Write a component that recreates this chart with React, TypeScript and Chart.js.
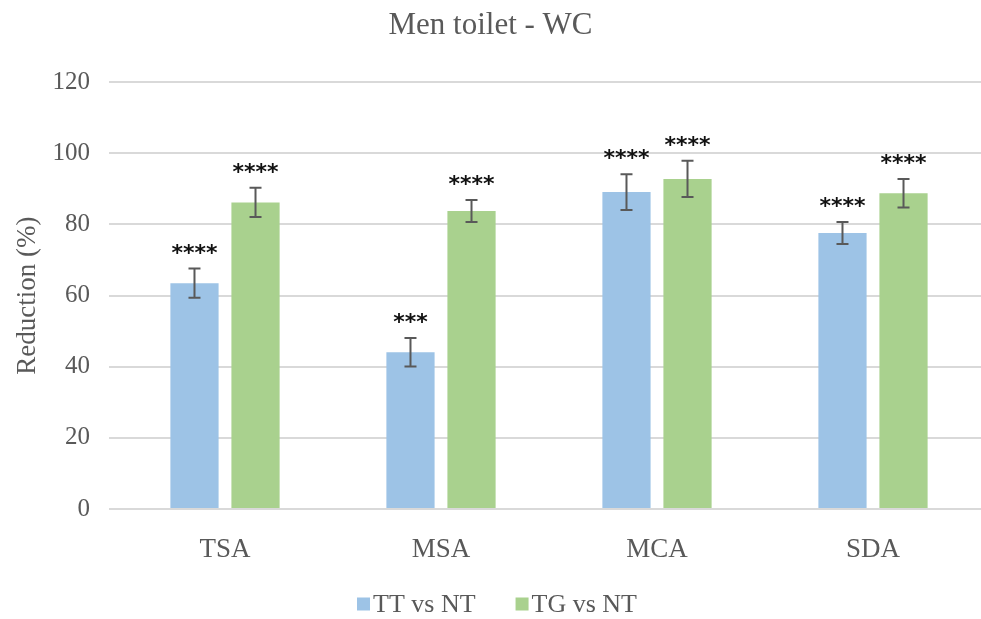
import React, { useEffect, useRef } from "react";
import { Chart, registerables } from "chart.js";

Chart.register(...registerables);

const categories = ["TSA", "MSA", "MCA", "SDA"];
const seriesNames = ["TT vs NT", "TG vs NT"];
const ttValues = [63.5, 44.1, 89.1, 77.6];
const tgValues = [86.2, 83.8, 92.8, 88.8];
const ttErrors = [4.1, 4.0, 5.0, 3.1];
const tgErrors = [4.1, 3.1, 5.1, 4.0];
const ttStars = ["****", "***", "****", "****"];
const tgStars = ["****", "****", "****", "****"];
const yTicks = [0, 20, 40, 60, 80, 100, 120];

const SERIF = "'Liberation Serif', 'DejaVu Serif', serif";
const GREY = "#595959";

const errorPlugin = {
  id: "errorBarsStars",
  afterDatasetsDraw(chart: any) {
    const ctx = chart.ctx;
    const yScale = chart.scales.y;
    const errs = [ttErrors, tgErrors];
    const stars = [ttStars, tgStars];
    chart.data.datasets.forEach((ds: any, di: number) => {
      const meta = chart.getDatasetMeta(di);
      meta.data.forEach((bar: any, i: number) => {
        const v = ds.data[i];
        const e = errs[di][i];
        const yTop = yScale.getPixelForValue(v + e);
        const yBot = yScale.getPixelForValue(v - e);
        const x = bar.x;
        ctx.save();
        ctx.strokeStyle = GREY;
        ctx.lineWidth = 2;
        ctx.beginPath();
        ctx.moveTo(x, yTop);
        ctx.lineTo(x, yBot);
        ctx.moveTo(x - 6, yTop);
        ctx.lineTo(x + 6, yTop);
        ctx.moveTo(x - 6, yBot);
        ctx.lineTo(x + 6, yBot);
        ctx.stroke();
        ctx.fillStyle = "#111";
        ctx.font = "bold 22px 'DejaVu Sans', sans-serif";
        ctx.textAlign = "center";
        ctx.textBaseline = "alphabetic";
        ctx.fillText(stars[di][i], x, yTop - 9);
        ctx.restore();
      });
    });
  },
};

const legendPlugin = {
  id: "customLegend",
  afterDraw(chart: any) {
    const ctx = chart.ctx;
    ctx.save();
    ctx.font = `26px ${SERIF}`;
    ctx.textBaseline = "middle";
    ctx.textAlign = "left";
    const box = 13;
    const gap = 3;
    const itemGap = 40;
    const items = chart.data.datasets.map((ds: any) => ({
      label: ds.label,
      color: ds.backgroundColor,
      w: box + gap + ctx.measureText(ds.label).width,
    }));
    const total = items.reduce((a: number, it: any) => a + it.w, 0) + itemGap * (items.length - 1);
    let x = 497 - total / 2;
    const y = 604;
    items.forEach((it: any) => {
      ctx.fillStyle = it.color;
      ctx.fillRect(x, y - box / 2, box, box);
      ctx.fillStyle = GREY;
      ctx.fillText(it.label, x + box + gap, y + 1);
      x += it.w + itemGap;
    });
    ctx.restore();
  },
};

export default function App() {
  const ref = useRef<HTMLCanvasElement>(null);
  useEffect(() => {
    document.body.style.margin = "0";
    const chart = new Chart(ref.current!, {
      type: "bar",
      data: {
        labels: categories,
        datasets: [
          { label: seriesNames[0], data: ttValues, backgroundColor: "#9DC3E6" },
          { label: seriesNames[1], data: tgValues, backgroundColor: "#A9D18E" },
        ],
      },
      plugins: [errorPlugin, legendPlugin],
      options: {
        animation: false,
        responsive: false,
        layout: { padding: { left: 0, right: 0, top: 0, bottom: 60 } },
        datasets: { bar: { categoryPercentage: 0.565, barPercentage: 0.79 } },
        plugins: {
          title: {
            display: true,
            text: "Men toilet - WC",
            color: GREY,
            font: { family: SERIF, size: 31, weight: "normal" },
            padding: { top: 7, bottom: 38 },
          },
          legend: { display: false },
          tooltip: { enabled: false },
        },
        scales: {
          x: {
            grid: { display: false },
            border: { color: "#D9D9D9", width: 2 },
            ticks: { color: GREY, font: { family: SERIF, size: 27 }, padding: 17 },
            afterFit: (s: any) => { s.height = 50; },
          },
          y: {
            min: 0,
            max: 120,
            afterBuildTicks: (s: any) => { s.ticks = yTicks.map((v) => ({ value: v })); },
            grid: { color: "#D9D9D9", lineWidth: 2, drawTicks: true, tickLength: 8 },
            border: { display: false },
            ticks: { color: GREY, font: { family: SERIF, size: 25 }, padding: 19 },
            title: {
              display: true,
              text: "Reduction (%)",
              color: GREY,
              font: { family: SERIF, size: 27 },
              padding: { top: 12, bottom: 8 },
            },
            afterFit: (s: any) => { s.width = 117; },
          },
        },
      },
    });
    return () => chart.destroy();
  }, []);
  return (
    <div style={{ position: "absolute", left: 0, top: 0, width: 981, height: 619 }}>
      <canvas ref={ref} width={981} height={619} />
    </div>
  );
}
